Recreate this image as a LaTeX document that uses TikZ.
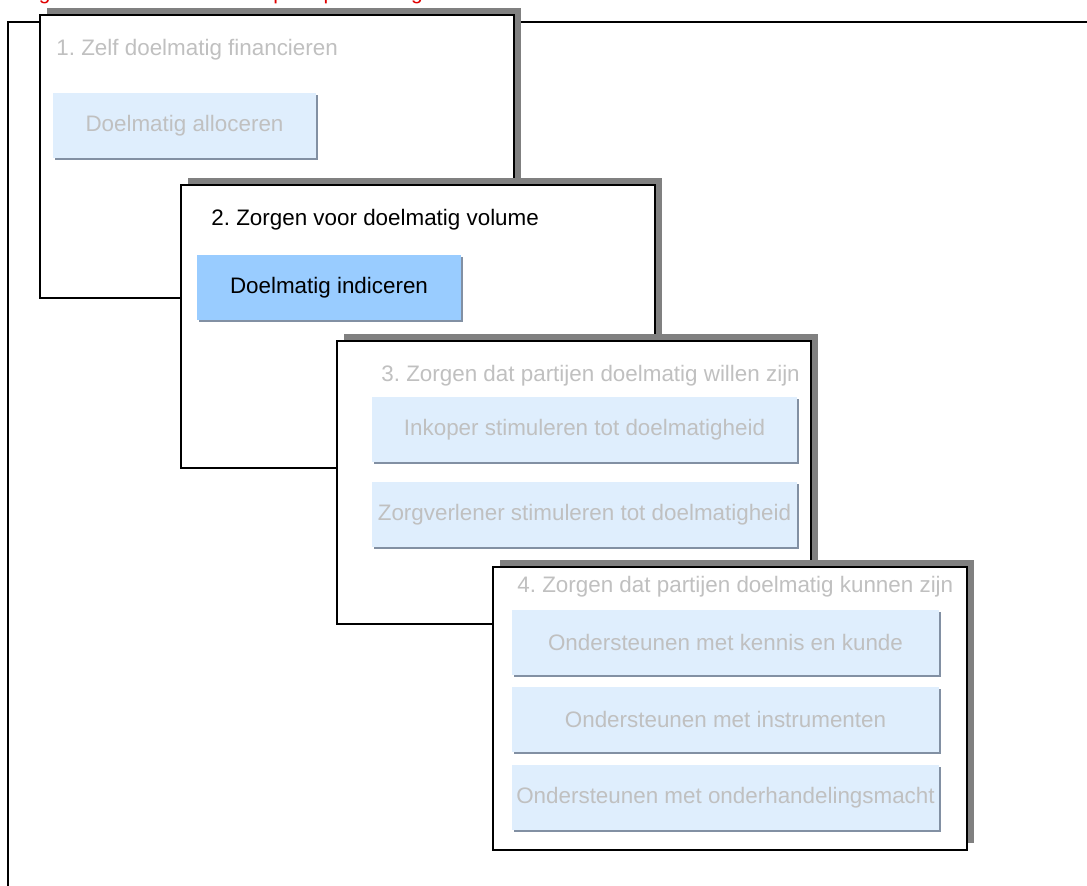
\documentclass[tikz,border=0pt]{standalone}
\usepackage{fontspec}
\setmainfont{Liberation Sans}
\usetikzlibrary{shadows}
\frenchspacing
\definecolor{shgray}{HTML}{808080}
\definecolor{txtgray}{HTML}{C0C0C0}
\definecolor{lightfill}{HTML}{DFEEFD}
\definecolor{activefill}{HTML}{99CCFF}
\definecolor{boxshadow}{HTML}{8290A3}
\definecolor{capred}{HTML}{E00000}
\tikzset{
  panel/.style={draw=black, line width=0.55pt, fill=white, inner sep=0pt, outer sep=0pt,
    anchor=north west, minimum width=237pt, minimum height=141.5pt,
    drop shadow={shadow xshift=3.7pt, shadow yshift=3.7pt, fill=shgray, opacity=1}},
  ibox/.style={draw=none, fill=lightfill, inner sep=0pt, outer sep=0pt, anchor=north west,
    minimum height=32.3pt, text=txtgray, font=\fontsize{11.2}{13}\selectfont,
    drop shadow={shadow xshift=1pt, shadow yshift=-1pt, fill=boxshadow, opacity=1}},
  ttl/.style={anchor=west, inner sep=0pt, font=\fontsize{11.2}{13}\selectfont},
}
\begin{document}
\begin{tikzpicture}[x=0.5pt,y=-0.5pt]
\useasboundingbox (0,0) rectangle (1087,885);
\clip (0,0) rectangle (1087,885);
% caption (cut off at the top)
\node[anchor=base west, inner sep=0pt, text=capred, font=\fontsize{10.5}{12}\selectfont] (cap) at (21,-0.5) {Figuur 1: Overzicht van de principes en regie};
% outer frame
\draw[line width=0.8pt] (8,22) rectangle (1100,900);
% panel 1
\node[panel] (p1) at (40,15) {};
\node[ttl, text=txtgray] (t1) at (56,50) {1. Zelf doelmatig financieren};
\node[ibox, minimum width=131.5pt] (b1) at (53,93) {Doelmatig alloceren};
% panel 2
\node[panel] (p2) at (181,185) {};
\node[ttl, text=black] (t2) at (211,220) {2. Zorgen voor doelmatig volume};
\node[ibox, minimum width=132pt, fill=activefill, text=black] (b2) at (197,255) {Doelmatig indiceren};
% panel 3
\node[panel] (p3) at (337,341) {};
\node[ttl, text=txtgray] (t3) at (381,376) {3. Zorgen dat partijen doelmatig willen zijn};
\node[ibox, minimum width=212.5pt] (b3a) at (372,397) {Inkoper stimuleren tot doelmatigheid};
\node[ibox, minimum width=212.5pt] (b3b) at (372,482) {Zorgverlener stimuleren tot doelmatigheid};
% panel 4
\node[panel] (p4) at (493,567) {};
\node[ttl, text=txtgray] (t4) at (517,587) {4. Zorgen dat partijen doelmatig kunnen zijn};
\node[ibox, minimum width=213.5pt] (b4a) at (512,610) {Ondersteunen met kennis en kunde};
\node[ibox, minimum width=213.5pt] (b4b) at (512,687) {Ondersteunen met instrumenten};
\node[ibox, minimum width=213.5pt] (b4c) at (512,765) {Ondersteunen met onderhandelingsmacht};
\end{tikzpicture}
\end{document}
